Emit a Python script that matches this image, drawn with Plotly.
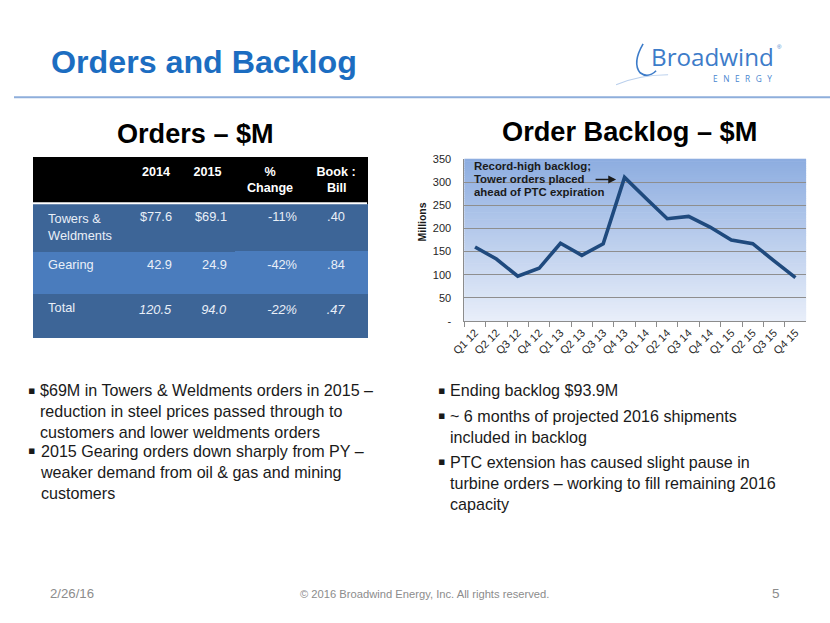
import plotly.graph_objects as go

W, H = 830, 623

# ---------------- data ----------------
quarters = ["Q1 12", "Q2 12", "Q3 12", "Q4 12", "Q1 13", "Q2 13", "Q3 13", "Q4 13",
            "Q1 14", "Q2 14", "Q3 14", "Q4 14", "Q1 15", "Q2 15", "Q3 15", "Q4 15"]
backlog = [160, 134, 97, 114, 168, 142, 167, 310, 265, 221, 226, 203, 175, 167, 130, 93.9]

y_tick_vals = [0, 50, 100, 150, 200, 250, 300, 350]
y_tick_text = ["-", "50", "100", "150", "200", "250", "300", "350"]

segments = ["Towers &<br>Weldments", "Gearing", "Total"]
orders_2014 = [77.6, 42.9, 120.5]
orders_2015 = [69.1, 24.9, 94.0]
pct_change = [-11, -42, -22]
book_to_bill = [0.40, 0.84, 0.47]
table_headers = ["", "2014", "2015", "%<br>Change", "Book :<br>Bill"]

chart_note_lines = ["Record-high backlog;", "Tower orders placed", "ahead of PTC expiration"]

left_bullets = [
    "$69M in Towers & Weldments orders in 2015 –<br>reduction in steel prices passed through to<br>customers and lower weldments orders",
    "2015 Gearing orders down sharply from PY –<br>weaker demand from oil & gas and mining<br>customers",
]
right_bullets = [
    "Ending backlog $93.9M",
    "~ 6 months of projected 2016 shipments<br>included in backlog",
    "PTC extension has caused slight pause in<br>turbine orders – working to fill remaining 2016<br>capacity",
]

# ---------------- helpers ----------------
# the photographed page shows the figure slightly shifted/scaled; positions are given
# in reference-picture pixels and mapped back to figure paper coordinates
OX, OY, S = 14.0, 5.1, 0.983

def px(x):
    return ((x - OX) / S) / W

def py(y):
    return 1 - ((y - OY) / S) / H

FONT = "Liberation Sans, Arial, sans-serif"
NB = "\u00a0"

def lerp_color(c1, c2, t):
    a = [int(c1[i:i + 2], 16) for i in (1, 3, 5)]
    b = [int(c2[i:i + 2], 16) for i in (1, 3, 5)]
    return "rgb(%d,%d,%d)" % tuple(round(a[k] + (b[k] - a[k]) * t) for k in range(3))

fig = go.Figure()

# ---------------- line chart ----------------
fig.add_trace(go.Scatter(
    x=quarters, y=backlog, mode="lines",
    line=dict(color="#1f4a7e", width=3.6),
    hoverinfo="x+y", showlegend=False,
))

# ---------------- table ----------------
def fmt_row(i, v, money=False, pct=False, ratio=False):
    if ratio:
        s = ("%.2f" % v).lstrip("0")
    elif pct:
        s = "%d%%" % v
    else:
        s = ("$" if money else "") + "%.1f" % v
    if segments[i] == "Total":
        s = "<i>%s</i>" % s
    return s

def center_lines(h):
    # table header lines are left-aligned inside their block: pad short lines
    if h.startswith("%<br>"):
        return NB * 5 + h
    if h.startswith("Book :<br>"):
        return h.replace("<br>", "<br>" + NB * 3)
    return h

col0 = [NB * 2 + s.replace("<br>", "<br>" + NB * 2) for s in segments]
col1 = [fmt_row(i, v, money=(i == 0)) for i, v in enumerate(orders_2014)]
col2 = [fmt_row(i, v, money=(i == 0)) for i, v in enumerate(orders_2015)]
col3 = [fmt_row(i, v, pct=True) for i, v in enumerate(pct_change)]
col4 = [fmt_row(i, v, ratio=True) for i, v in enumerate(book_to_bill)]

row_fill = ["#3d6597", "#4a7cbd", "#3d6597"]
fig.add_trace(go.Table(
    domain=dict(x=[px(33), px(367)], y=[py(340), py(156.5)]),
    columnwidth=[99, 48, 55, 70, 62],
    header=dict(
        values=["<b>%s</b>" % center_lines(h) for h in table_headers],
        fill_color="#000000",
        line=dict(color="#000000", width=1),
        font=dict(family=FONT, size=12.6, color="#ffffff"),
        align=["left", "center", "center", "center", "center"],
        height=45.8,
    ),
    cells=dict(
        values=[col0, col1, col2, col3, col4],
        fill_color=[row_fill] * 5,
        line=dict(color=[row_fill] * 5, width=1),
        font=dict(family=FONT, size=12.8, color="#e9eff8"),
        align=["left", "right", "right", "right", "center"],
        height=43.2,
    ),
))

# ---------------- layout ----------------
shapes = []
N = 70
for i in range(N):
    shapes.append(dict(
        type="rect", xref="x domain", yref="y domain",
        x0=0, x1=1, y0=max(0, 1 - (i + 1) / N - 0.004), y1=1 - i / N,
        fillcolor=lerp_color("#8dade0", "#e8eef9", i / (N - 1)),
        line=dict(width=0), layer="below",
    ))
shapes.append(dict(type="line", xref="paper", yref="paper",
                   x0=0, x1=1, y0=py(96.5), y1=py(96.5),
                   line=dict(color="#8eaedb", width=2)))
shapes.append(dict(type="line", xref="paper", yref="paper",
                   x0=px(33), x1=px(367), y0=py(202.8), y1=py(202.8),
                   line=dict(color="#ffffff", width=2), layer="above"))

def path(points_cmds):
    out = []
    for cmd, pts in points_cmds:
        out.append(cmd + " " + " ".join("%.5f,%.5f" % (px(x), py(y)) for x, y in pts))
    return " ".join(out)

shapes.append(dict(type="path", xref="paper", yref="paper",
                   path=path([("M", [(643, 43)]), ("Q", [(632, 62), (640, 72)]),
                              ("Q", [(648, 78), (656, 70)])]),
                   line=dict(color="#3d7cc9", width=1.6)))
shapes.append(dict(type="path", xref="paper", yref="paper",
                   path=path([("M", [(616, 84)]), ("Q", [(640, 74), (668, 74)])]),
                   line=dict(color="#b9cfec", width=1.2)))

annotations = []

def note(text, x, y, size, color="#1a1a1a", family=FONT, xanchor="left", yanchor="middle", **kw):
    d = dict(text=text, x=px(x), y=py(y), xref="paper", yref="paper",
             xanchor=xanchor, yanchor=yanchor, showarrow=False,
             font=dict(family=family, size=size, color=color))
    d.update(kw)
    annotations.append(d)

note("<b>Orders and Backlog</b>", 49, 61, 32.2, "#1c6dc1")
note("Broadwind", 649, 55.5, 24.2, "#3d7cc9", family="Open Sans, sans-serif")
note("E\u2002\u2009N\u2002\u2009E\u2002\u2009R\u2002\u2009G\u2002\u2009Y", 774, 78, 8.3, "#4a86cf",
     family="Open Sans, sans-serif", xanchor="right")
note("®", 779, 46, 6, "#3d7cc9", xanchor="center")
note("<b>Orders – $M</b>", 195, 133, 27.1, "#000000", xanchor="center")
note("<b>Order Backlog – $M</b>", 629, 131, 27.2, "#000000", xanchor="center")
for k, line in enumerate(chart_note_lines):
    note("<b>%s</b>" % line, 472, 165 + 13.5 * k, 11.4)
annotations.append(dict(text="", x=px(616), y=py(179), ax=-22, ay=0,
                        xref="paper", yref="paper",
                        showarrow=True, arrowhead=2, arrowsize=1.2, arrowwidth=1.3,
                        arrowcolor="#1a1a1a"))
note("<b>Millions</b>", 422, 222, 10.5, xanchor="center", textangle=-90)

def add_bullets(items, first_centers, bx, tx):
    for txt, yc in zip(items, first_centers):
        note("▪", bx, yc, 11, family="DejaVu Sans", xanchor="center")
        note(txt, tx, yc - 11, 16.1, yanchor="top", align="left")

add_bullets(left_bullets, [390, 451], 31, 38)
add_bullets(right_bullets, [390, 416, 462], 441, 448)

FOOT = "Liberation Sans Narrow, Arial Narrow, Liberation Sans, sans-serif"
note("2/26/16", 48, 594, 13.2, "#8c8c8c", family=FOOT)
note("© 2016 Broadwind Energy, Inc. All rights reserved.", 424, 594, 11.2, "#8c8c8c",
     family=FOOT, xanchor="center")
note("5", 782, 594, 13.5, "#8c8c8c", family=FOOT, xanchor="right")

fig.update_layout(
    width=W, height=H,
    margin=dict(l=0, r=0, t=0, b=0),
    paper_bgcolor="#ffffff",
    plot_bgcolor="#e8eef9",
    font=dict(family=FONT, size=11, color="#262626"),
    showlegend=False,
    shapes=shapes,
    annotations=annotations,
    xaxis=dict(
        domain=[px(464.3), px(806)],
        type="category", categoryorder="array", categoryarray=quarters,
        range=[-0.5, len(quarters) - 0.5],
        tickson="boundaries", ticks="outside", ticklen=5, tickcolor="#8c8c8c",
        tickangle=-45, showgrid=False, showline=True, linecolor="#8c8c8c", linewidth=1,
        tickfont=dict(family=FONT, size=11, color="#262626"),
        fixedrange=True,
    ),
    yaxis=dict(
        domain=[py(321), py(158.3)],
        range=[0, 350], tickvals=y_tick_vals, ticktext=y_tick_text,
        showgrid=True, gridcolor="#8e8e8e", gridwidth=1,
        showline=True, linecolor="#8c8c8c", linewidth=1,
        zeroline=False, ticks="", ticklabelstandoff=10,
        tickfont=dict(family=FONT, size=11, color="#262626"),
        fixedrange=True,
    ),
)

fig.write_html(
    "out.html",
    config={"displayModeBar": False, "responsive": False},
    post_script=("document.documentElement.style.margin='0';"
                 "document.body.style.margin='0';document.body.style.padding='0';"
                 "document.body.style.overflow='hidden';"),
)
